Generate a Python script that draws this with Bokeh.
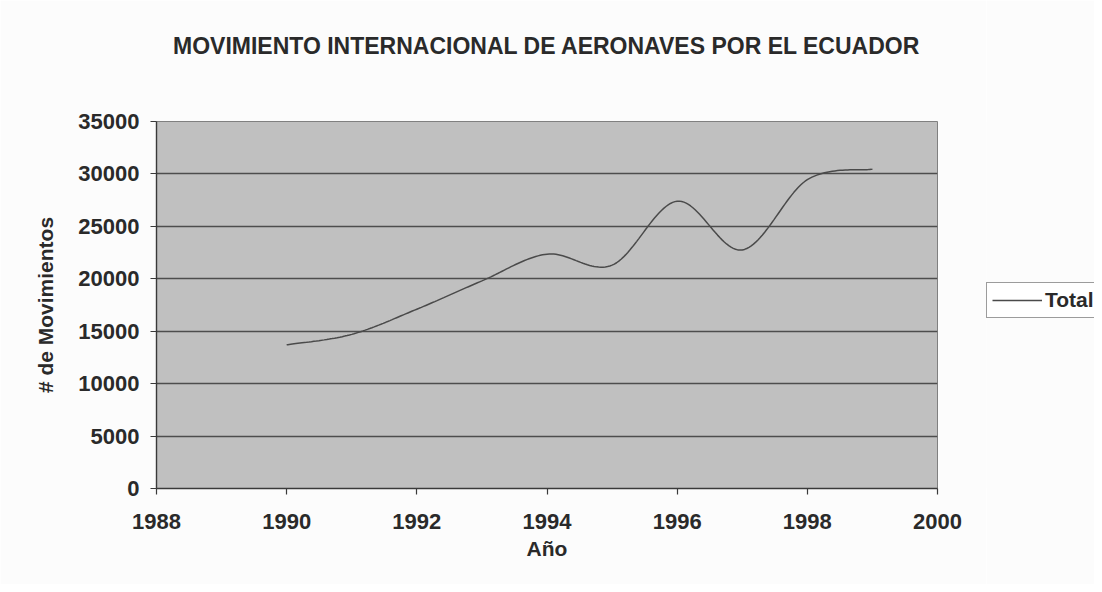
import numpy as np
from bokeh.plotting import figure
from bokeh.layouts import row
from bokeh.models import (Legend, LegendItem, LinearAxis, FixedTicker, Range1d)
from bokeh.embed import file_html
from bokeh.resources import INLINE

# ---- data ----
years = [1990, 1991, 1992, 1993, 1994, 1995, 1996, 1997, 1998, 1999]
total = [13700, 14700, 17100, 19800, 22350, 21300, 27400, 22750, 29450, 30450]
x_ticks = [1988, 1990, 1992, 1994, 1996, 1998, 2000]
y_ticks = [0, 5000, 10000, 15000, 20000, 25000, 30000, 35000]
title_text = "MOVIMIENTO INTERNACIONAL DE AERONAVES POR EL ECUADOR"
x_label = "Año"
y_label = "# de Movimientos"
series_name = "Total"

FONT = "Liberation Sans"
TXT = "#2a2a2a"
PAGE = "#fcfcfc"


def smooth(xs, ys, n=30):
    """Excel-style smoothed line (Catmull-Rom Bezier) through the data points."""
    xs = np.asarray(xs, float)
    ys = np.asarray(ys, float)
    px = np.concatenate([[xs[0]], xs, [xs[-1]]])
    py = np.concatenate([[ys[0]], ys, [ys[-1]]])
    outx, outy = [], []
    t = np.linspace(0, 1, n)
    for i in range(1, len(px) - 2):
        p0x, p0y = px[i], py[i]
        p3x, p3y = px[i + 1], py[i + 1]
        c1x = p0x + (px[i + 1] - px[i - 1]) / 6
        c1y = p0y + (py[i + 1] - py[i - 1]) / 6
        c2x = p3x - (px[i + 2] - px[i]) / 6
        c2y = p3y - (py[i + 2] - py[i]) / 6
        bx = (1 - t) ** 3 * p0x + 3 * (1 - t) ** 2 * t * c1x + 3 * (1 - t) * t ** 2 * c2x + t ** 3 * p3x
        by = (1 - t) ** 3 * p0y + 3 * (1 - t) ** 2 * t * c1y + 3 * (1 - t) * t ** 2 * c2y + t ** 3 * p3y
        if i > 1:
            bx, by = bx[1:], by[1:]
        outx.extend(bx)
        outy.extend(by)
    return outx, outy


p = figure(width=986, height=584, output_backend="svg", toolbar_location=None,
           x_range=Range1d(1988, 2000), y_range=Range1d(0, 35000),
           min_border_left=156, min_border_right=49,
           min_border_top=121, min_border_bottom=96)

p.background_fill_color = "#c0c0c0"
p.border_fill_color = PAGE
p.outline_line_color = "#808080"
p.outline_line_width = 1

# grid
p.xgrid.grid_line_color = None
p.ygrid.grid_line_color = "#4d4d4d"
p.ygrid.grid_line_width = 1.4

# axes
xa = p.below[0]
ya = p.left[0]
for ax in (xa, ya):
    ax.axis_line_color = "#3a3a3a"
    ax.axis_line_width = 1.4
    ax.major_tick_line_color = "#3a3a3a"
    ax.major_tick_line_width = 1.2
    ax.major_tick_in = 0
    ax.major_tick_out = 6
    ax.minor_tick_line_color = None
    ax.major_label_text_font = FONT
    ax.major_label_text_font_style = "bold"
    ax.major_label_text_font_size = "22px"
    ax.major_label_text_color = TXT
    ax.axis_label_text_font = FONT
    ax.axis_label_text_font_style = "bold"
    ax.axis_label_text_font_size = "21px"
    ax.axis_label_text_color = TXT

xa.ticker = FixedTicker(ticks=x_ticks)
ya.ticker = FixedTicker(ticks=y_ticks)
xa.major_label_standoff = 19
ya.major_label_standoff = 11
xa.axis_label = x_label
ya.axis_label = y_label
xa.axis_label_standoff = 5
ya.axis_label_standoff = 18

# title drawn as the label of an empty axis above the plot area
top_axis = LinearAxis(ticker=FixedTicker(ticks=[]), axis_label=title_text,
                      axis_line_color=None, major_tick_line_color=None,
                      minor_tick_line_color=None,
                      axis_label_text_font=FONT, axis_label_text_font_style="bold",
                      axis_label_text_font_size="23px", axis_label_text_color=TXT,
                      axis_label_standoff=63)
p.add_layout(top_axis, "above")

sx, sy = smooth(years, total)
p.line(sx, sy, line_color="#4a4a4a", line_width=1.5)

# legend panel (separate narrow figure to the right of the chart)
p2 = figure(width=108, height=584, output_backend="svg", toolbar_location=None,
            x_range=Range1d(5000, 5001), y_range=Range1d(0, 1),
            x_axis_type=None, y_axis_type=None,
            min_border_left=0, min_border_right=0, min_border_top=0, min_border_bottom=0)
p2.background_fill_color = PAGE
p2.border_fill_color = PAGE
p2.outline_line_color = None
p2.grid.grid_line_color = None
r2 = p2.line(years, total, line_color="#4a4a4a", line_width=1.5)

legend = Legend(items=[LegendItem(label=series_name, renderers=[r2])],
                location=(0, 170), orientation="vertical",
                label_text_font=FONT, label_text_font_style="bold",
                label_text_font_size="21px", label_text_color=TXT,
                glyph_width=50, glyph_height=20, label_standoff=3,
                padding=5, margin=0, spacing=0,
                border_line_color="#3a3a3a", border_line_width=1,
                background_fill_color="white", background_fill_alpha=1)
p2.add_layout(legend, "center")

layout = row(p, p2, spacing=0)
open("out.html", "w").write(file_html(layout, INLINE))
